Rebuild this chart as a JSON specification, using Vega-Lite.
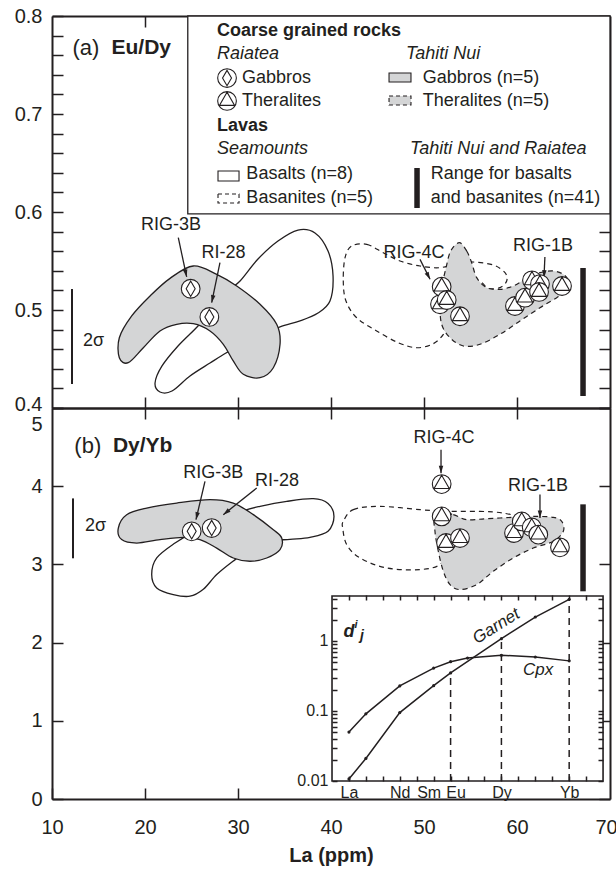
{
  "$schema": "https://vega.github.io/schema/vega-lite/v6.json",
  "background": "white",
  "padding": {"left": 14, "top": 6, "right": 4, "bottom": 4},
  "spacing": 0,
  "bounds": "flush",
  "config": {
    "view": {"stroke": null},
    "font": "Liberation Sans",
    "axis": {"grid": false, "domainColor": "#231f20", "domainWidth": 2, "tickColor": "#231f20", "tickWidth": 1.5, "labelFont": "Liberation Sans", "labelColor": "#231f20", "labelFontSize": 20, "titleFont": "Liberation Sans", "titleColor": "#231f20", "labelFlush": false, "labelOverlap": false},
    "text": {"font": "Liberation Sans", "color": "#231f20"}
  },
  "datasets": {
    "topFields": [
      {"f":"basalt","i":0,"La":30.22,"v":0.5296},{"f":"basalt","i":1,"La":32.15,"v":0.552},{"f":"basalt","i":2,"La":34.3,"v":0.5704},{"f":"basalt","i":3,"La":36.45,"v":0.5816},{"f":"basalt","i":4,"La":38.28,"v":0.5786},{"f":"basalt","i":5,"La":39.68,"v":0.5602},{"f":"basalt","i":6,"La":40.22,"v":0.5347},{"f":"basalt","i":7,"La":39.89,"v":0.5092},{"f":"basalt","i":8,"La":38.6,"v":0.4969},{"f":"basalt","i":9,"La":36.67,"v":0.4888},{"f":"basalt","i":10,"La":34.52,"v":0.4827},{"f":"basalt","i":11,"La":32.58,"v":0.4735},{"f":"basalt","i":12,"La":30.22,"v":0.4633},{"f":"basalt","i":13,"La":28.71,"v":0.4561},{"f":"basalt","i":14,"La":26.99,"v":0.4459},{"f":"basalt","i":15,"La":24.84,"v":0.4327},{"f":"basalt","i":16,"La":22.9,"v":0.4173},{"f":"basalt","i":17,"La":21.61,"v":0.4163},{"f":"basalt","i":18,"La":21.08,"v":0.4255},{"f":"basalt","i":19,"La":21.83,"v":0.4429},{"f":"basalt","i":20,"La":23.55,"v":0.4633},{"f":"basalt","i":21,"La":25.7,"v":0.4837},{"f":"basalt","i":22,"La":27.53,"v":0.5041},{"f":"basalt","i":23,"La":28.92,"v":0.5194},
      {"f":"basanite","i":0,"La":42.23,"v":0.5653},{"f":"basanite","i":1,"La":43.84,"v":0.567},{"f":"basanite","i":2,"La":45.62,"v":0.5585},{"f":"basanite","i":3,"La":47.42,"v":0.55},{"f":"basanite","i":4,"La":49.57,"v":0.5449},{"f":"basanite","i":5,"La":51.72,"v":0.5432},{"f":"basanite","i":6,"La":53.87,"v":0.5483},{"f":"basanite","i":7,"La":55.3,"v":0.549},{"f":"basanite","i":8,"La":57.45,"v":0.5459},{"f":"basanite","i":9,"La":58.71,"v":0.5381},{"f":"basanite","i":10,"La":58.89,"v":0.5296},{"f":"basanite","i":11,"La":58.17,"v":0.5228},{"f":"basanite","i":12,"La":56.91,"v":0.5221},{"f":"basanite","i":13,"La":55.84,"v":0.5279},{"f":"basanite","i":14,"La":53.87,"v":0.5092},{"f":"basanite","i":15,"La":52.44,"v":0.4854},{"f":"basanite","i":16,"La":52.08,"v":0.4752},{"f":"basanite","i":17,"La":51.0,"v":0.4656},{"f":"basanite","i":18,"La":49.22,"v":0.4615},{"f":"basanite","i":19,"La":47.24,"v":0.4666},{"f":"basanite","i":20,"La":44.91,"v":0.4786},{"f":"basanite","i":21,"La":42.76,"v":0.4921},{"f":"basanite","i":22,"La":41.61,"v":0.5092},{"f":"basanite","i":23,"La":41.32,"v":0.5296},{"f":"basanite","i":24,"La":41.51,"v":0.5534},
      {"f":"gabbro","i":0,"La":25.19,"v":0.5449},{"f":"gabbro","i":1,"La":27.71,"v":0.5364},{"f":"gabbro","i":2,"La":29.86,"v":0.5245},{"f":"gabbro","i":3,"La":32.37,"v":0.5058},{"f":"gabbro","i":4,"La":34.16,"v":0.4854},{"f":"gabbro","i":5,"La":34.52,"v":0.465},{"f":"gabbro","i":6,"La":33.8,"v":0.4411},{"f":"gabbro","i":7,"La":32.37,"v":0.4309},{"f":"gabbro","i":8,"La":30.57,"v":0.4344},{"f":"gabbro","i":9,"La":29.49,"v":0.448},{"f":"gabbro","i":10,"La":28.42,"v":0.465},{"f":"gabbro","i":11,"La":26.99,"v":0.4786},{"f":"gabbro","i":12,"La":25.19,"v":0.486},{"f":"gabbro","i":13,"La":23.41,"v":0.4854},{"f":"gabbro","i":14,"La":21.61,"v":0.4786},{"f":"gabbro","i":15,"La":19.82,"v":0.4615},{"f":"gabbro","i":16,"La":18.2,"v":0.4462},{"f":"gabbro","i":17,"La":17.24,"v":0.4513},{"f":"gabbro","i":18,"La":17.24,"v":0.4717},{"f":"gabbro","i":19,"La":18.57,"v":0.4939},{"f":"gabbro","i":20,"La":20.54,"v":0.5143},{"f":"gabbro","i":21,"La":22.69,"v":0.5323},
      {"f":"theralite","i":0,"La":53.8,"v":0.5687},{"f":"theralite","i":1,"La":54.59,"v":0.5602},{"f":"theralite","i":2,"La":55.13,"v":0.5483},{"f":"theralite","i":3,"La":55.67,"v":0.533},{"f":"theralite","i":4,"La":56.74,"v":0.5228},{"f":"theralite","i":5,"La":58.17,"v":0.5211},{"f":"theralite","i":6,"La":59.6,"v":0.5245},{"f":"theralite","i":7,"La":61.04,"v":0.5323},{"f":"theralite","i":8,"La":62.47,"v":0.5381},{"f":"theralite","i":9,"La":63.9,"v":0.5398},{"f":"theralite","i":10,"La":64.98,"v":0.5364},{"f":"theralite","i":11,"La":65.52,"v":0.5296},{"f":"theralite","i":12,"La":65.34,"v":0.5194},{"f":"theralite","i":13,"La":64.27,"v":0.5126},{"f":"theralite","i":14,"La":62.47,"v":0.5023},{"f":"theralite","i":15,"La":60.32,"v":0.4888},{"f":"theralite","i":16,"La":58.17,"v":0.4752},{"f":"theralite","i":17,"La":56.02,"v":0.465},{"f":"theralite","i":18,"La":54.23,"v":0.4633},{"f":"theralite","i":19,"La":52.8,"v":0.4717},{"f":"theralite","i":20,"La":51.9,"v":0.4854},{"f":"theralite","i":21,"La":51.72,"v":0.5058},{"f":"theralite","i":22,"La":51.9,"v":0.5228},{"f":"theralite","i":23,"La":52.37,"v":0.5432},{"f":"theralite","i":24,"La":52.87,"v":0.5602}
    ],
    "botFields": [
      {"f":"basalt","i":0,"La":30.4,"v":3.678},{"f":"basalt","i":1,"La":32.37,"v":3.742},{"f":"basalt","i":2,"La":35.24,"v":3.806},{"f":"basalt","i":3,"La":38.1,"v":3.84},{"f":"basalt","i":4,"La":39.68,"v":3.78},{"f":"basalt","i":5,"La":40.32,"v":3.614},{"f":"basalt","i":6,"La":39.68,"v":3.423},{"f":"basalt","i":7,"La":37.74,"v":3.346},{"f":"basalt","i":8,"La":35.59,"v":3.321},{"f":"basalt","i":9,"La":33.44,"v":3.295},{"f":"basalt","i":10,"La":31.29,"v":3.193},{"f":"basalt","i":11,"La":29.46,"v":3.04},{"f":"basalt","i":12,"La":27.71,"v":2.87},{"f":"basalt","i":13,"La":26.27,"v":2.682},{"f":"basalt","i":14,"La":24.84,"v":2.593},{"f":"basalt","i":15,"La":23.04,"v":2.614},{"f":"basalt","i":16,"La":21.26,"v":2.699},{"f":"basalt","i":17,"La":20.72,"v":2.87},{"f":"basalt","i":18,"La":21.26,"v":3.082},{"f":"basalt","i":19,"La":23.23,"v":3.273},{"f":"basalt","i":20,"La":25.38,"v":3.423},{"f":"basalt","i":21,"La":28.06,"v":3.55},
      {"f":"basanite","i":0,"La":41.32,"v":3.55},{"f":"basanite","i":1,"La":42.4,"v":3.7},{"f":"basanite","i":2,"La":45.27,"v":3.742},{"f":"basanite","i":3,"La":49.57,"v":3.7},{"f":"basanite","i":4,"La":52.44,"v":3.678},{"f":"basanite","i":5,"La":56.02,"v":3.678},{"f":"basanite","i":6,"La":58.53,"v":3.656},{"f":"basanite","i":7,"La":60.32,"v":3.593},{"f":"basanite","i":8,"La":58.89,"v":3.508},{"f":"basanite","i":9,"La":54.95,"v":3.423},{"f":"basanite","i":10,"La":52.44,"v":3.167},{"f":"basanite","i":11,"La":51.72,"v":2.997},{"f":"basanite","i":12,"La":49.57,"v":2.934},{"f":"basanite","i":13,"La":45.99,"v":2.954},{"f":"basanite","i":14,"La":43.12,"v":3.082},{"f":"basanite","i":15,"La":41.69,"v":3.253},{"f":"basanite","i":16,"La":41.26,"v":3.465},
      {"f":"gabbro","i":0,"La":17.13,"v":3.465},{"f":"gabbro","i":1,"La":18.03,"v":3.636},{"f":"gabbro","i":2,"La":20.18,"v":3.72},{"f":"gabbro","i":3,"La":23.41,"v":3.784},{"f":"gabbro","i":4,"La":26.99,"v":3.828},{"f":"gabbro","i":5,"La":29.49,"v":3.784},{"f":"gabbro","i":6,"La":31.65,"v":3.636},{"f":"gabbro","i":7,"La":33.8,"v":3.444},{"f":"gabbro","i":8,"La":34.7,"v":3.337},{"f":"gabbro","i":9,"La":34.52,"v":3.189},{"f":"gabbro","i":10,"La":33.09,"v":3.082},{"f":"gabbro","i":11,"La":31.29,"v":3.04},{"f":"gabbro","i":12,"La":29.49,"v":3.082},{"f":"gabbro","i":13,"La":27.71,"v":3.209},{"f":"gabbro","i":14,"La":25.91,"v":3.317},{"f":"gabbro","i":15,"La":24.12,"v":3.346},{"f":"gabbro","i":16,"La":21.61,"v":3.317},{"f":"gabbro","i":17,"La":19.11,"v":3.273},{"f":"gabbro","i":18,"La":17.49,"v":3.317},
      {"f":"theralite","i":0,"La":51.18,"v":3.678},{"f":"theralite","i":1,"La":53.15,"v":3.636},{"f":"theralite","i":2,"La":54.59,"v":3.572},{"f":"theralite","i":3,"La":56.74,"v":3.585},{"f":"theralite","i":4,"La":59.6,"v":3.602},{"f":"theralite","i":5,"La":61.75,"v":3.614},{"f":"theralite","i":6,"La":63.9,"v":3.602},{"f":"theralite","i":7,"La":64.81,"v":3.55},{"f":"theralite","i":8,"La":64.98,"v":3.423},{"f":"theralite","i":9,"La":63.9,"v":3.295},{"f":"theralite","i":10,"La":61.75,"v":3.209},{"f":"theralite","i":11,"La":59.6,"v":3.082},{"f":"theralite","i":12,"La":57.45,"v":2.912},{"f":"theralite","i":13,"La":55.67,"v":2.742},{"f":"theralite","i":14,"La":53.87,"v":2.678},{"f":"theralite","i":15,"La":52.8,"v":2.742},{"f":"theralite","i":16,"La":52.08,"v":2.912},{"f":"theralite","i":17,"La":51.54,"v":3.167},{"f":"theralite","i":18,"La":51.18,"v":3.423}
    ],
    "topPts": [
      {"kind":"gabbro","La":24.91,"v":0.5217},{"kind":"gabbro","La":26.92,"v":0.4929},
      {"kind":"theralite","La":51.9,"v":0.5238},{"kind":"theralite","La":51.72,"v":0.5058},{"kind":"theralite","La":52.44,"v":0.5102},{"kind":"theralite","La":53.87,"v":0.4936},{"kind":"theralite","La":59.78,"v":0.5041},{"kind":"theralite","La":60.86,"v":0.5126},{"kind":"theralite","La":61.61,"v":0.5303},{"kind":"theralite","La":62.47,"v":0.5265},{"kind":"theralite","La":62.37,"v":0.5184},{"kind":"theralite","La":64.84,"v":0.5245},
      {"kind":"gabbro","La":28.82,"v":0.7367},{"kind":"theralite","La":28.82,"v":0.7133}
    ],
    "botPts": [
      {"kind":"gabbro","La":25.02,"v":3.423},{"kind":"gabbro","La":27.17,"v":3.465},
      {"kind":"theralite","La":51.9,"v":4.027},{"kind":"theralite","La":51.9,"v":3.614},{"kind":"theralite","La":52.37,"v":3.274},{"kind":"theralite","La":53.87,"v":3.337},{"kind":"theralite","La":59.68,"v":3.401},{"kind":"theralite","La":60.51,"v":3.55},{"kind":"theralite","La":61.58,"v":3.474},{"kind":"theralite","La":62.29,"v":3.381},{"kind":"theralite","La":64.62,"v":3.218}
    ],
    "topRules": [
      {"kind":"sigma","La":12.15,"v":0.5214,"v2":0.4245},{"kind":"range","La":67.1,"v":0.5429,"v2":0.4122},{"kind":"range","La":49.25,"v":0.6449,"v2":0.6041}
    ],
    "botRules": [
      {"kind":"sigma","La":12.26,"v":3.844,"v2":3.078},{"kind":"range","La":67.1,"v":3.768,"v2":2.656}
    ],
    "topRects": [
      {"kind":"box","La":24.6,"La2":70,"v":0.598,"v2":0.8},
      {"kind":"basalt","La":27.85,"La2":30.11,"v":0.6418,"v2":0.6316},
      {"kind":"basanite","La":27.85,"La2":30.11,"v":0.6184,"v2":0.6092},
      {"kind":"gabbro","La":46.24,"La2":48.6,"v":0.7418,"v2":0.7327},
      {"kind":"theralite","La":46.24,"La2":48.6,"v":0.7184,"v2":0.7092}
    ],
    "topArrows": [
      {"id":"a1","i":0,"La":23.58,"v":0.5738,"dir":168},{"id":"a1","i":1,"La":24.48,"v":0.5337,"dir":168},
      {"id":"a2","i":0,"La":28.06,"v":0.5483,"dir":192},{"id":"a2","i":1,"La":27.17,"v":0.5075,"dir":192},
      {"id":"a3","i":0,"La":49.57,"v":0.5517,"dir":153},{"id":"a3","i":1,"La":50.65,"v":0.5313,"dir":153},
      {"id":"a4","i":0,"La":63.0,"v":0.554,"dir":183},{"id":"a4","i":1,"La":62.9,"v":0.533,"dir":183}
    ],
    "botArrows": [
      {"id":"b1","i":0,"La":26.45,"v":4.061,"dir":193},{"id":"b1","i":1,"La":25.48,"v":3.572,"dir":193},
      {"id":"b2","i":0,"La":32.01,"v":3.976,"dir":231},{"id":"b2","i":1,"La":28.42,"v":3.636,"dir":231},
      {"id":"b3","i":0,"La":51.83,"v":4.466,"dir":180},{"id":"b3","i":1,"La":51.83,"v":4.167,"dir":180},
      {"id":"b4","i":0,"La":62.47,"v":3.895,"dir":180},{"id":"b4","i":1,"La":62.47,"v":3.593,"dir":180}
    ],
    "topText": [
      {"kind":"panel","text":"(a)","La":12.2,"v":0.7673},{"kind":"panelb","text":"Eu/Dy","La":16.4,"v":0.7673},
      {"kind":"sample","text":"RIG-3B","La":22.8,"v":0.5867},{"kind":"sample","text":"RI-28","La":28.44,"v":0.5585},{"kind":"sample","text":"RIG-4C","La":48.92,"v":0.5585},{"kind":"sample","text":"RIG-1B","La":62.8,"v":0.5653},
      {"kind":"sigma","text":"2σ","La":13.33,"v":0.4684},
      {"kind":"heading","text":"Coarse grained rocks","La":27.74,"v":0.7847},{"kind":"heading","text":"Lavas","La":27.74,"v":0.6878},
      {"kind":"group","text":"Raiatea","La":27.74,"v":0.7612},{"kind":"group","text":"Seamounts","La":27.74,"v":0.6643},{"kind":"group","text":"Tahiti Nui","La":48.06,"v":0.7612},{"kind":"group","text":"Tahiti Nui and Raiatea","La":48.49,"v":0.6643},
      {"kind":"item","text":"Gabbros","La":30.43,"v":0.7367},{"kind":"item","text":"Theralites","La":30.43,"v":0.7133},{"kind":"item","text":"Basalts (n=8)","La":30.9,"v":0.6388},{"kind":"item","text":"Basanites (n=5)","La":30.9,"v":0.6143},{"kind":"item","text":"Gabbros (n=5)","La":49.86,"v":0.7367},{"kind":"item","text":"Theralites (n=5)","La":49.86,"v":0.7133},{"kind":"item","text":"Range for basalts","La":50.72,"v":0.6388},{"kind":"item","text":"and basanites (n=41)","La":50.72,"v":0.6143}
    ],
    "botText": [
      {"kind":"panel","text":"(b)","La":12.4,"v":4.508},{"kind":"panelb","text":"Dy/Yb","La":16.55,"v":4.508},
      {"kind":"sample","text":"RIG-3B","La":27.35,"v":4.167},{"kind":"sample","text":"RI-28","La":34.2,"v":4.061},{"kind":"sample","text":"RIG-4C","La":52.15,"v":4.615},{"kind":"sample","text":"RIG-1B","La":62.26,"v":3.997},
      {"kind":"sigma","text":"2σ","La":13.55,"v":3.487}
    ],
    "insetFrame": [{"Z":56,"Z2":72,"D":0.01,"D2":4.39}],
    "insetDash": [{"Z":63,"D":0.01,"D2":0.35},{"Z":66,"D":0.01,"D2":1.08},{"Z":70,"D":0.01,"D2":3.94}],
    "ree": [
      {"mineral":"Cpx","Z":57,"D":0.05},{"mineral":"Cpx","Z":58,"D":0.091},{"mineral":"Cpx","Z":60,"D":0.228},{"mineral":"Cpx","Z":62,"D":0.41},{"mineral":"Cpx","Z":63,"D":0.506},{"mineral":"Cpx","Z":64,"D":0.57},{"mineral":"Cpx","Z":66,"D":0.625},{"mineral":"Cpx","Z":68,"D":0.59},{"mineral":"Cpx","Z":70,"D":0.52},
      {"mineral":"Garnet","Z":57,"D":0.0107},{"mineral":"Garnet","Z":58,"D":0.021},{"mineral":"Garnet","Z":60,"D":0.095},{"mineral":"Garnet","Z":62,"D":0.23},{"mineral":"Garnet","Z":63,"D":0.35},{"mineral":"Garnet","Z":66,"D":1.08},{"mineral":"Garnet","Z":68,"D":2.2},{"mineral":"Garnet","Z":70,"D":3.94}
    ],
    "insetText": [
      {"kind":"garnet","text":"Garnet","Z":65.7,"D":1.62},
      {"kind":"cpx","text":"Cpx","Z":68.16,"D":0.385},
      {"kind":"d","text":"d","Z":57.0,"D":1.345},
      {"kind":"sup","text":"i","Z":57.42,"D":1.69},
      {"kind":"sub","text":"j","Z":57.77,"D":1.18}
    ]
  },
  "vconcat": [
    {
      "width": 558, "height": 392,
      "resolve": {"axis": {"x": "independent", "y": "independent"}},
      "layer": [
        {
          "data": {"name": "topPts"},
          "mark": {"type": "point", "opacity": 0},
          "encoding": {
            "x": {"field": "La", "type": "quantitative", "scale": {"domain": [10, 70], "nice": false, "zero": false},
              "axis": {"orient": "bottom", "values": [20, 30, 40, 50, 60], "labels": false, "tickSize": -11, "title": null}},
            "y": {"field": "v", "type": "quantitative", "scale": {"domain": [0.4, 0.8], "nice": false, "zero": false},
              "axis": {"orient": "left", "values": [0.4, 0.42, 0.44, 0.46, 0.48, 0.5, 0.52, 0.54, 0.56, 0.58, 0.6, 0.62, 0.64, 0.66, 0.68, 0.7, 0.72, 0.74, 0.76, 0.78, 0.8], "tickSize": -11, "labelPadding": 21, "title": null,
                "labelExpr": "abs(datum.value * 10 - round(datum.value * 10)) < 0.001 ? format(datum.value, '.1f') : ''",
                "labelOffset": {"condition": {"test": "datum.value < 0.41", "value": -4}, "value": 0}}}
          }
        },
        {
          "data": {"name": "topPts"},
          "mark": {"type": "point", "opacity": 0},
          "encoding": {
            "x": {"field": "La", "type": "quantitative", "scale": {"domain": [10, 70], "nice": false, "zero": false},
              "axis": {"orient": "top", "values": [20, 30, 40, 50, 60], "labels": false, "tickSize": -11, "title": null}},
            "y": {"field": "v", "type": "quantitative", "scale": {"domain": [0.4, 0.8], "nice": false, "zero": false},
              "axis": {"orient": "right", "values": [0.4, 0.42, 0.44, 0.46, 0.48, 0.5, 0.52, 0.54, 0.56, 0.58, 0.6, 0.62, 0.64, 0.66, 0.68, 0.7, 0.72, 0.74, 0.76, 0.78, 0.8], "labels": false, "tickSize": -11, "title": null}}
          }
        },
        {
          "encoding": {
            "x": {"field": "La", "type": "quantitative", "scale": {"domain": [10, 70], "nice": false, "zero": false}, "axis": null},
            "y": {"field": "v", "type": "quantitative", "scale": {"domain": [0.4, 0.8], "nice": false, "zero": false}, "axis": null}
          },
          "layer": [
            {"data": {"name": "topFields"}, "transform": [{"filter": "datum.f == 'basalt'"}], "mark": {"type": "line", "interpolate": "cardinal-closed", "stroke": "#231f20", "strokeWidth": 1.3}, "encoding": {"order": {"field": "i", "type": "quantitative"}}},
            {"data": {"name": "topFields"}, "transform": [{"filter": "datum.f == 'basanite'"}], "mark": {"type": "line", "interpolate": "cardinal-closed", "stroke": "#231f20", "strokeWidth": 1.2, "strokeDash": [5, 4]}, "encoding": {"order": {"field": "i", "type": "quantitative"}}},
            {"data": {"name": "topFields"}, "transform": [{"filter": "datum.f == 'gabbro'"}], "mark": {"type": "line", "interpolate": "cardinal-closed", "fill": "#d4d5d6", "stroke": "#231f20", "strokeWidth": 1.3}, "encoding": {"order": {"field": "i", "type": "quantitative"}}},
            {"data": {"name": "topFields"}, "transform": [{"filter": "datum.f == 'theralite'"}], "mark": {"type": "line", "interpolate": "cardinal-closed", "fill": "#d4d5d6", "stroke": "#231f20", "strokeWidth": 1.2, "strokeDash": [5, 4]}, "encoding": {"order": {"field": "i", "type": "quantitative"}}},
            {"data": {"name": "topRects"}, "transform": [{"filter": "datum.kind == 'box'"}], "mark": {"type": "rect", "fill": "white", "stroke": "#231f20", "strokeWidth": 1.3}, "encoding": {"x2": {"field": "La2"}, "y2": {"field": "v2"}}},
            {"data": {"name": "topRects"}, "transform": [{"filter": "datum.kind == 'basalt'"}], "mark": {"type": "rect", "fill": "white", "stroke": "#231f20", "strokeWidth": 1.1}, "encoding": {"x2": {"field": "La2"}, "y2": {"field": "v2"}}},
            {"data": {"name": "topRects"}, "transform": [{"filter": "datum.kind == 'basanite'"}], "mark": {"type": "rect", "fill": "white", "stroke": "#231f20", "strokeWidth": 1.1, "strokeDash": [4, 3]}, "encoding": {"x2": {"field": "La2"}, "y2": {"field": "v2"}}},
            {"data": {"name": "topRects"}, "transform": [{"filter": "datum.kind == 'gabbro'"}], "mark": {"type": "rect", "fill": "#d4d5d6", "stroke": "#231f20", "strokeWidth": 1.1}, "encoding": {"x2": {"field": "La2"}, "y2": {"field": "v2"}}},
            {"data": {"name": "topRects"}, "transform": [{"filter": "datum.kind == 'theralite'"}], "mark": {"type": "rect", "fill": "#d4d5d6", "stroke": "#231f20", "strokeWidth": 1.1, "strokeDash": [4, 3]}, "encoding": {"x2": {"field": "La2"}, "y2": {"field": "v2"}}},
            {"data": {"name": "topRules"}, "transform": [{"filter": "datum.kind == 'sigma'"}], "mark": {"type": "rule", "stroke": "#231f20", "strokeWidth": 2}, "encoding": {"y2": {"field": "v2"}}},
            {"data": {"name": "topRules"}, "transform": [{"filter": "datum.kind == 'range'"}], "mark": {"type": "rule", "stroke": "#231f20", "strokeWidth": 5.5}, "encoding": {"y2": {"field": "v2"}}},
            {"data": {"name": "topArrows"}, "mark": {"type": "line", "stroke": "#231f20", "strokeWidth": 1.3}, "encoding": {"detail": {"field": "id"}, "order": {"field": "i", "type": "quantitative"}}},
            {"data": {"name": "topArrows"}, "transform": [{"filter": "datum.i == 1"}], "mark": {"type": "point", "shape": "M0,0L0.6,2L-0.6,2Z", "filled": true, "fill": "#231f20", "size": 56, "opacity": 1}, "encoding": {"angle": {"field": "dir", "type": "quantitative", "scale": null}}},
            {"data": {"name": "topPts"}, "mark": {"type": "point", "filled": true, "fill": "white", "stroke": "#231f20", "strokeWidth": 1.1, "size": 350, "opacity": 1},
              "encoding": {"shape": {"field": "kind", "type": "nominal", "legend": null, "scale": {"domain": ["gabbro", "theralite"], "range": ["M-1,0A1,1 0 1,0 1,0A1,1 0 1,0 -1,0Z M0,-0.82L-0.48,0L0,0.82L0.48,0Z", "M-1,0A1,1 0 1,0 1,0A1,1 0 1,0 -1,0Z M0,-0.94L-0.81,0.47L0.81,0.47Z"]}}}},
            {"data": {"name": "topText"}, "transform": [{"filter": "datum.kind == 'panel'"}], "mark": {"type": "text", "align": "left", "fontSize": 22}, "encoding": {"text": {"field": "text"}}},
            {"data": {"name": "topText"}, "transform": [{"filter": "datum.kind == 'panelb'"}], "mark": {"type": "text", "align": "left", "fontSize": 21, "fontWeight": "bold"}, "encoding": {"text": {"field": "text"}}},
            {"data": {"name": "topText"}, "transform": [{"filter": "datum.kind == 'sample'"}], "mark": {"type": "text", "align": "center", "fontSize": 18}, "encoding": {"text": {"field": "text"}}},
            {"data": {"name": "topText"}, "transform": [{"filter": "datum.kind == 'sigma'"}], "mark": {"type": "text", "align": "left", "fontSize": 18}, "encoding": {"text": {"field": "text"}}},
            {"data": {"name": "topText"}, "transform": [{"filter": "datum.kind == 'heading'"}], "mark": {"type": "text", "align": "left", "fontSize": 18, "fontWeight": "bold"}, "encoding": {"text": {"field": "text"}}},
            {"data": {"name": "topText"}, "transform": [{"filter": "datum.kind == 'group'"}], "mark": {"type": "text", "align": "left", "fontSize": 18, "fontStyle": "italic"}, "encoding": {"text": {"field": "text"}}},
            {"data": {"name": "topText"}, "transform": [{"filter": "datum.kind == 'item'"}], "mark": {"type": "text", "align": "left", "fontSize": 18}, "encoding": {"text": {"field": "text"}}}
          ]
        }
      ]
    },
    {
      "width": 558, "height": 391,
      "resolve": {"scale": {"x": "independent", "y": "independent"}},
      "layer": [
        {
          "resolve": {"axis": {"x": "independent", "y": "independent"}},
          "layer": [
            {
              "data": {"name": "botPts"},
              "mark": {"type": "point", "opacity": 0},
              "encoding": {
                "x": {"field": "La", "type": "quantitative", "scale": {"domain": [10, 70], "nice": false, "zero": false},
                  "axis": {"orient": "bottom", "values": [10, 20, 30, 40, 50, 60, 70], "tickSize": -11, "labelPadding": 29, "title": "La (ppm)", "titleFontSize": 20, "titleFontWeight": "bold", "titlePadding": 8,
                    "tickOpacity": {"condition": {"test": "datum.value > 35", "value": 0}, "value": 1},
                    "labelOffset": {"condition": {"test": "datum.value > 69", "value": -4}, "value": 0}}},
                "y": {"field": "v", "type": "quantitative", "scale": {"domain": [0, 5], "nice": false, "zero": false},
                  "axis": {"orient": "left", "values": [0, 1, 2, 3, 4, 5], "tickSize": -11, "labelPadding": 21, "title": null,
                    "labelOffset": {"condition": {"test": "datum.value > 4.9", "value": 16}, "value": 0}}}
              }
            },
            {
              "data": {"name": "botPts"},
              "mark": {"type": "point", "opacity": 0},
              "encoding": {
                "x": {"field": "La", "type": "quantitative", "scale": {"domain": [10, 70], "nice": false, "zero": false},
                  "axis": {"orient": "top", "values": [20, 30, 40, 50, 60], "labels": false, "tickSize": -11, "title": null}},
                "y": {"field": "v", "type": "quantitative", "scale": {"domain": [0, 5], "nice": false, "zero": false},
                  "axis": {"orient": "right", "values": [0, 1, 2, 3, 4, 5], "labels": false, "tickSize": -11, "title": null}}
              }
            },
            {
              "encoding": {
                "x": {"field": "La", "type": "quantitative", "scale": {"domain": [10, 70], "nice": false, "zero": false}, "axis": null},
                "y": {"field": "v", "type": "quantitative", "scale": {"domain": [0, 5], "nice": false, "zero": false}, "axis": null}
              },
              "layer": [
                {"data": {"name": "botFields"}, "transform": [{"filter": "datum.f == 'basalt'"}], "mark": {"type": "line", "interpolate": "cardinal-closed", "stroke": "#231f20", "strokeWidth": 1.3}, "encoding": {"order": {"field": "i", "type": "quantitative"}}},
                {"data": {"name": "botFields"}, "transform": [{"filter": "datum.f == 'basanite'"}], "mark": {"type": "line", "interpolate": "cardinal-closed", "stroke": "#231f20", "strokeWidth": 1.2, "strokeDash": [5, 4]}, "encoding": {"order": {"field": "i", "type": "quantitative"}}},
                {"data": {"name": "botFields"}, "transform": [{"filter": "datum.f == 'gabbro'"}], "mark": {"type": "line", "interpolate": "cardinal-closed", "fill": "#d4d5d6", "stroke": "#231f20", "strokeWidth": 1.3}, "encoding": {"order": {"field": "i", "type": "quantitative"}}},
                {"data": {"name": "botFields"}, "transform": [{"filter": "datum.f == 'theralite'"}], "mark": {"type": "line", "interpolate": "cardinal-closed", "fill": "#d4d5d6", "stroke": "#231f20", "strokeWidth": 1.2, "strokeDash": [5, 4]}, "encoding": {"order": {"field": "i", "type": "quantitative"}}},
                {"data": {"name": "botRules"}, "transform": [{"filter": "datum.kind == 'sigma'"}], "mark": {"type": "rule", "stroke": "#231f20", "strokeWidth": 2}, "encoding": {"y2": {"field": "v2"}}},
                {"data": {"name": "botRules"}, "transform": [{"filter": "datum.kind == 'range'"}], "mark": {"type": "rule", "stroke": "#231f20", "strokeWidth": 5.5}, "encoding": {"y2": {"field": "v2"}}},
                {"data": {"name": "botArrows"}, "mark": {"type": "line", "stroke": "#231f20", "strokeWidth": 1.3}, "encoding": {"detail": {"field": "id"}, "order": {"field": "i", "type": "quantitative"}}},
                {"data": {"name": "botArrows"}, "transform": [{"filter": "datum.i == 1"}], "mark": {"type": "point", "shape": "M0,0L0.6,2L-0.6,2Z", "filled": true, "fill": "#231f20", "size": 56, "opacity": 1}, "encoding": {"angle": {"field": "dir", "type": "quantitative", "scale": null}}},
                {"data": {"name": "botPts"}, "mark": {"type": "point", "filled": true, "fill": "white", "stroke": "#231f20", "strokeWidth": 1.1, "size": 350, "opacity": 1},
                  "encoding": {"shape": {"field": "kind", "type": "nominal", "legend": null, "scale": {"domain": ["gabbro", "theralite"], "range": ["M-1,0A1,1 0 1,0 1,0A1,1 0 1,0 -1,0Z M0,-0.82L-0.48,0L0,0.82L0.48,0Z", "M-1,0A1,1 0 1,0 1,0A1,1 0 1,0 -1,0Z M0,-0.94L-0.81,0.47L0.81,0.47Z"]}}}},
                {"data": {"name": "botText"}, "transform": [{"filter": "datum.kind == 'panel'"}], "mark": {"type": "text", "align": "left", "fontSize": 22}, "encoding": {"text": {"field": "text"}}},
                {"data": {"name": "botText"}, "transform": [{"filter": "datum.kind == 'panelb'"}], "mark": {"type": "text", "align": "left", "fontSize": 21, "fontWeight": "bold"}, "encoding": {"text": {"field": "text"}}},
                {"data": {"name": "botText"}, "transform": [{"filter": "datum.kind == 'sample'"}], "mark": {"type": "text", "align": "center", "fontSize": 18}, "encoding": {"text": {"field": "text"}}},
                {"data": {"name": "botText"}, "transform": [{"filter": "datum.kind == 'sigma'"}], "mark": {"type": "text", "align": "left", "fontSize": 18}, "encoding": {"text": {"field": "text"}}}
              ]
            }
          ]
        },
        {
          "resolve": {"axis": {"x": "independent", "y": "independent"}},
          "layer": [
            {
              "data": {"name": "ree"},
              "mark": {"type": "point", "opacity": 0},
              "encoding": {
                "x": {"field": "Z", "type": "quantitative", "scale": {"domain": [39.47, 72.41], "nice": false, "zero": false},
                  "axis": {"orient": "bottom", "offset": -18, "values": [57, 58, 59, 60, 61, 62, 63, 64, 65, 66, 67, 68, 69, 70, 71], "tickSize": -5, "labelPadding": 8, "domain": false, "labelFontSize": 16, "title": null, "zindex": 1,
                    "labelExpr": "datum.value == 57 ? 'La' : datum.value == 60 ? 'Nd' : datum.value == 62 ? 'Sm' : datum.value == 63 ? 'Eu' : datum.value == 66 ? 'Dy' : datum.value == 70 ? 'Yb' : ''",
                    "labelOffset": {"condition": [{"test": "datum.value == 62", "value": -5}, {"test": "datum.value == 63", "value": 5}], "value": 0}}},
                "y": {"field": "D", "type": "quantitative", "scale": {"type": "log", "domain": [0.00553, 2131], "nice": false},
                  "axis": {"orient": "left", "offset": -280, "values": [0.01, 0.02, 0.03, 0.04, 0.05, 0.06, 0.07, 0.08, 0.09, 0.1, 0.2, 0.3, 0.4, 0.5, 0.6, 0.7, 0.8, 0.9, 1, 2, 3, 4], "tickSize": -5, "labelPadding": 9, "domain": false, "labelFontSize": 16, "title": null, "zindex": 1,
                    "labelExpr": "datum.value == 1 ? '1' : datum.value == 0.1 ? '0.1' : datum.value == 0.01 ? '0.01' : ''"}}
              }
            },
            {
              "data": {"name": "ree"},
              "mark": {"type": "point", "opacity": 0},
              "encoding": {
                "x": {"field": "Z", "type": "quantitative", "scale": {"domain": [39.47, 72.41], "nice": false, "zero": false},
                  "axis": {"orient": "top", "offset": -187, "values": [57, 58, 59, 60, 61, 62, 63, 64, 65, 66, 67, 68, 69, 70, 71], "tickSize": -5, "labels": false, "domain": false, "title": null, "zindex": 1}},
                "y": {"field": "D", "type": "quantitative", "scale": {"type": "log", "domain": [0.00553, 2131], "nice": false},
                  "axis": {"orient": "right", "offset": -7, "values": [0.01, 0.02, 0.03, 0.04, 0.05, 0.06, 0.07, 0.08, 0.09, 0.1, 0.2, 0.3, 0.4, 0.5, 0.6, 0.7, 0.8, 0.9, 1, 2, 3, 4], "tickSize": -5, "labels": false, "domain": false, "title": null, "zindex": 1}}
              }
            },
            {
              "encoding": {
                "x": {"field": "Z", "type": "quantitative", "scale": {"domain": [39.47, 72.41], "nice": false, "zero": false}, "axis": null},
                "y": {"field": "D", "type": "quantitative", "scale": {"type": "log", "domain": [0.00553, 2131], "nice": false}, "axis": null}
              },
              "layer": [
                {"data": {"name": "insetFrame"}, "mark": {"type": "rect", "fill": "white", "stroke": "#231f20", "strokeWidth": 1.6}, "encoding": {"x2": {"field": "Z2"}, "y2": {"field": "D2"}}},
                {"data": {"name": "insetDash"}, "mark": {"type": "rule", "stroke": "#231f20", "strokeWidth": 1.5, "strokeDash": [7, 5]}, "encoding": {"y2": {"field": "D2"}}},
                {"data": {"name": "ree"}, "mark": {"type": "line", "stroke": "#231f20", "strokeWidth": 1.5, "point": {"filled": true, "fill": "#231f20", "size": 10}}, "encoding": {"detail": {"field": "mineral"}}},
                {"data": {"name": "insetText"}, "transform": [{"filter": "datum.kind == 'garnet'"}], "mark": {"type": "text", "fontSize": 17, "fontStyle": "italic", "angle": 328}, "encoding": {"text": {"field": "text"}}},
                {"data": {"name": "insetText"}, "transform": [{"filter": "datum.kind == 'cpx'"}], "mark": {"type": "text", "fontSize": 17, "fontStyle": "italic"}, "encoding": {"text": {"field": "text"}}},
                {"data": {"name": "insetText"}, "transform": [{"filter": "datum.kind == 'd'"}], "mark": {"type": "text", "fontSize": 18, "fontStyle": "italic", "fontWeight": "bold"}, "encoding": {"text": {"field": "text"}}},
                {"data": {"name": "insetText"}, "transform": [{"filter": "datum.kind == 'sup'"}], "mark": {"type": "text", "fontSize": 11, "fontStyle": "italic", "fontWeight": "bold"}, "encoding": {"text": {"field": "text"}}},
                {"data": {"name": "insetText"}, "transform": [{"filter": "datum.kind == 'sub'"}], "mark": {"type": "text", "fontSize": 14, "fontStyle": "italic", "fontWeight": "bold"}, "encoding": {"text": {"field": "text"}}}
              ]
            }
          ]
        }
      ]
    }
  ]
}
